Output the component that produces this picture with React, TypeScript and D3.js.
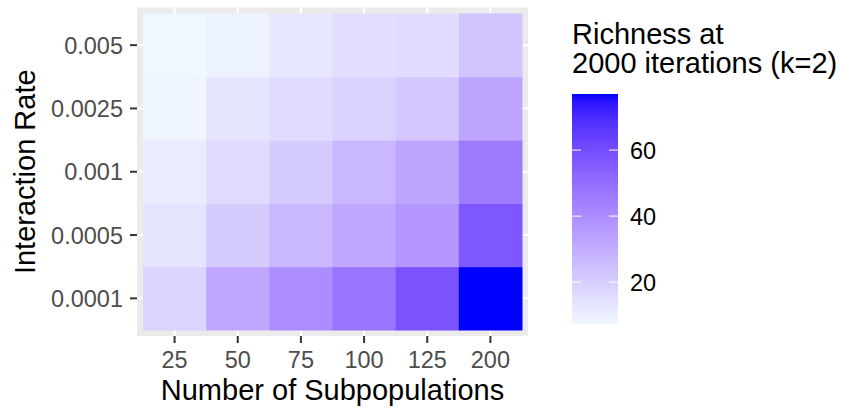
import React from "react";
import * as d3 from "d3";

const xCats = ["25", "50", "75", "100", "125", "200"];
const yCats = ["0.0001", "0.0005", "0.001", "0.0025", "0.005"];
// richness values per interaction rate (rows), columns follow xCats
const row0001 = [18, 32, 40, 48, 58, 77];
const row0005 = [13, 21, 27, 32, 37, 57];
const row001 = [11, 16, 21, 27, 33, 46];
const row0025 = [8, 13, 16, 19, 22, 33];
const row005 = [7.3, 9, 12, 15, 16, 23];
const rows = [row0001, row0005, row001, row0025, row005];
const legendTicks = [20, 40, 60];

const W = 841;
const H = 408;
const panel = { left: 137, right: 528, top: 7.5, bottom: 336 };
const expand = 6;
const FONT = "'Liberation Sans', Arial, Helvetica, sans-serif";

export default function App() {
  const cells = rows.flatMap((vals, i) =>
    vals.map((v, j) => ({ x: xCats[j], y: yCats[i], v }))
  );
  const vmin = d3.min(cells, (d) => d.v) as number;
  const vmax = d3.max(cells, (d) => d.v) as number;

  const x = d3
    .scaleBand<string>()
    .domain(xCats)
    .range([panel.left + expand, panel.right - expand]);
  const y = d3
    .scaleBand<string>()
    .domain(yCats)
    .range([panel.bottom - expand, panel.top + expand]);
  const color = d3
    .scaleLinear<string>()
    .domain([vmin, vmax])
    .range(["#f0f8ff", "#0000ff"])
    .interpolate(d3.interpolateLab);

  const leg = { x: 572, w: 46, top: 94, bottom: 324 };
  const ly = d3.scaleLinear().domain([vmin, vmax]).range([leg.bottom, leg.top]);
  const stops = d3.range(0, 41).map((i) => i / 40);

  const bw = x.bandwidth();
  const bh = y.bandwidth();
  const pcx = (panel.left + panel.right) / 2;
  const pcy = (panel.top + panel.bottom) / 2;

  return (
    <svg
      width={W}
      height={H}
      style={{ position: "absolute", left: 0, top: 0, background: "#fff" }}
      fontFamily={FONT}
    >
      <defs>
        <linearGradient id="lg" x1="0" y1="1" x2="0" y2="0">
          {stops.map((t) => (
            <stop
              key={t}
              offset={t}
              stopColor={color(vmin + t * (vmax - vmin))}
            />
          ))}
        </linearGradient>
      </defs>
      <rect
        x={panel.left}
        y={panel.top}
        width={panel.right - panel.left}
        height={panel.bottom - panel.top}
        fill="#ebebeb"
      />
      {xCats.map((c) => (
        <line
          key={"gx" + c}
          x1={(x(c) as number) + bw / 2}
          x2={(x(c) as number) + bw / 2}
          y1={panel.top}
          y2={panel.bottom}
          stroke="#fff"
          strokeWidth={2}
        />
      ))}
      {yCats.map((c) => (
        <line
          key={"gy" + c}
          y1={(y(c) as number) + bh / 2}
          y2={(y(c) as number) + bh / 2}
          x1={panel.left}
          x2={panel.right}
          stroke="#fff"
          strokeWidth={2}
        />
      ))}
      {cells.map((d) => (
        <rect
          key={d.x + "_" + d.y}
          x={x(d.x)}
          y={y(d.y)}
          width={bw + 0.5}
          height={bh + 0.5}
          fill={color(d.v)}
        />
      ))}
      {xCats.map((c) => {
        const cx = (x(c) as number) + bw / 2;
        return (
          <g key={"tx" + c}>
            <line
              x1={cx}
              x2={cx}
              y1={panel.bottom}
              y2={panel.bottom + 7}
              stroke="#333"
              strokeWidth={2}
            />
            <text
              x={cx}
              y={368}
              textAnchor="middle"
              fontSize={23.5}
              fill="#4d4d4d"
            >
              {c}
            </text>
          </g>
        );
      })}
      {yCats.map((c) => {
        const cy = (y(c) as number) + bh / 2;
        return (
          <g key={"ty" + c}>
            <line
              x1={panel.left - 7}
              x2={panel.left}
              y1={cy}
              y2={cy}
              stroke="#333"
              strokeWidth={2}
            />
            <text
              x={123}
              y={cy}
              dy="0.36em"
              textAnchor="end"
              fontSize={23.5}
              fill="#4d4d4d"
            >
              {c}
            </text>
          </g>
        );
      })}
      <text x={pcx} y={400} textAnchor="middle" fontSize={29} fill="#000">
        Number of Subpopulations
      </text>
      <text
        transform={`translate(35,${pcy}) rotate(-90)`}
        textAnchor="middle"
        fontSize={29}
        fill="#000"
      >
        Interaction Rate
      </text>
      <text x={572} y={44} fontSize={29} fill="#000">
        Richness at
      </text>
      <text x={572} y={73} fontSize={29} fill="#000">
        2000 iterations (k=2)
      </text>
      <rect
        x={leg.x}
        y={leg.top}
        width={leg.w}
        height={leg.bottom - leg.top}
        fill="url(#lg)"
      />
      {legendTicks.map((t) => (
        <g key={"lt" + t}>
          <line
            x1={leg.x}
            x2={leg.x + 9}
            y1={ly(t)}
            y2={ly(t)}
            stroke="#fff"
            strokeWidth={1}
          />
          <line
            x1={leg.x + leg.w - 9}
            x2={leg.x + leg.w}
            y1={ly(t)}
            y2={ly(t)}
            stroke="#fff"
            strokeWidth={1}
          />
          <text
            x={630}
            y={ly(t)}
            dy="0.36em"
            fontSize={23.5}
            fill="#000"
          >
            {t}
          </text>
        </g>
      ))}
    </svg>
  );
}
